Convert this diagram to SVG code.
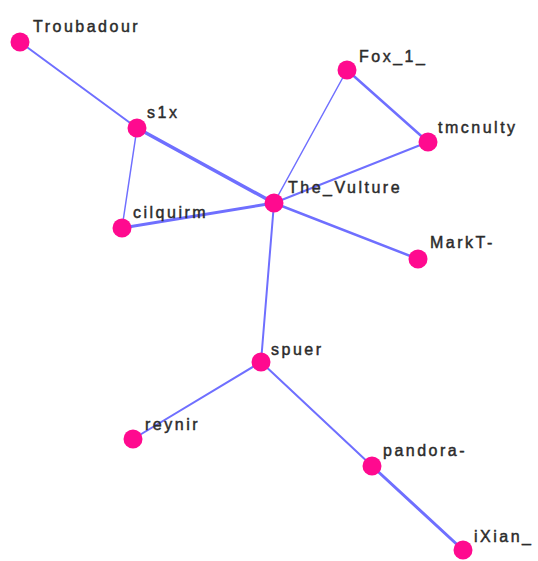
<svg xmlns="http://www.w3.org/2000/svg" width="538" height="561" viewBox="0 0 538 561">
<style>
.e{stroke:#6f6fff;stroke-linecap:round;fill:none}
.n circle{fill:#ff0a8f}
.n text{font-family:"Liberation Sans",Arial,sans-serif;font-size:16px;letter-spacing:2.5px;fill:#2b2b2b;stroke:#2b2b2b;stroke-width:0.45px}
</style>
<rect width="538" height="561" fill="#fff"/>
<g id="edges">
<line class="e" x1="20" y1="42" x2="137" y2="128" stroke-width="2"/>
<line class="e" x1="137" y1="128" x2="274" y2="203" stroke-width="3.5"/>
<line class="e" x1="137" y1="128" x2="122" y2="228" stroke-width="1.5"/>
<line class="e" x1="122" y1="228" x2="274" y2="203" stroke-width="3"/>
<line class="e" x1="274" y1="203" x2="347" y2="70" stroke-width="1.5"/>
<line class="e" x1="347" y1="70" x2="428" y2="142" stroke-width="2.5"/>
<line class="e" x1="428" y1="142" x2="274" y2="203" stroke-width="2"/>
<line class="e" x1="274" y1="203" x2="418" y2="259" stroke-width="2.5"/>
<line class="e" x1="274" y1="203" x2="261" y2="362" stroke-width="2"/>
<line class="e" x1="261" y1="362" x2="133" y2="439" stroke-width="2"/>
<line class="e" x1="261" y1="362" x2="372" y2="466" stroke-width="2"/>
<line class="e" x1="372" y1="466" x2="463" y2="550" stroke-width="3"/>
</g>
<g id="Troubadour" class="n"><circle cx="20" cy="42" r="9.5"/><text x="33" y="32">Troubadour</text></g>
<g id="s1x" class="n"><circle cx="137" cy="128" r="9.5"/><text x="147" y="118">s1x</text></g>
<g id="cilquirm" class="n"><circle cx="122" cy="228" r="9.5"/><text x="133" y="218">cilquirm</text></g>
<g id="The_Vulture" class="n"><circle cx="274" cy="203" r="9.5"/><text x="288" y="193">The_Vulture</text></g>
<g id="Fox_1_" class="n"><circle cx="347" cy="70" r="9.5"/><text x="359" y="62">Fox_1_</text></g>
<g id="tmcnulty" class="n"><circle cx="428" cy="142" r="9.5"/><text x="438" y="133">tmcnulty</text></g>
<g id="MarkT-" class="n"><circle cx="418" cy="259" r="9.5"/><text x="430" y="248">MarkT-</text></g>
<g id="spuer" class="n"><circle cx="261" cy="362" r="9.5"/><text x="271" y="355">spuer</text></g>
<g id="reynir" class="n"><circle cx="133" cy="439" r="9.5"/><text x="145" y="430">reynir</text></g>
<g id="pandora-" class="n"><circle cx="372" cy="466" r="9.5"/><text x="383" y="456">pandora-</text></g>
<g id="iXian_" class="n"><circle cx="463" cy="550" r="9.5"/><text x="474" y="542">iXian_</text></g>
</svg>
